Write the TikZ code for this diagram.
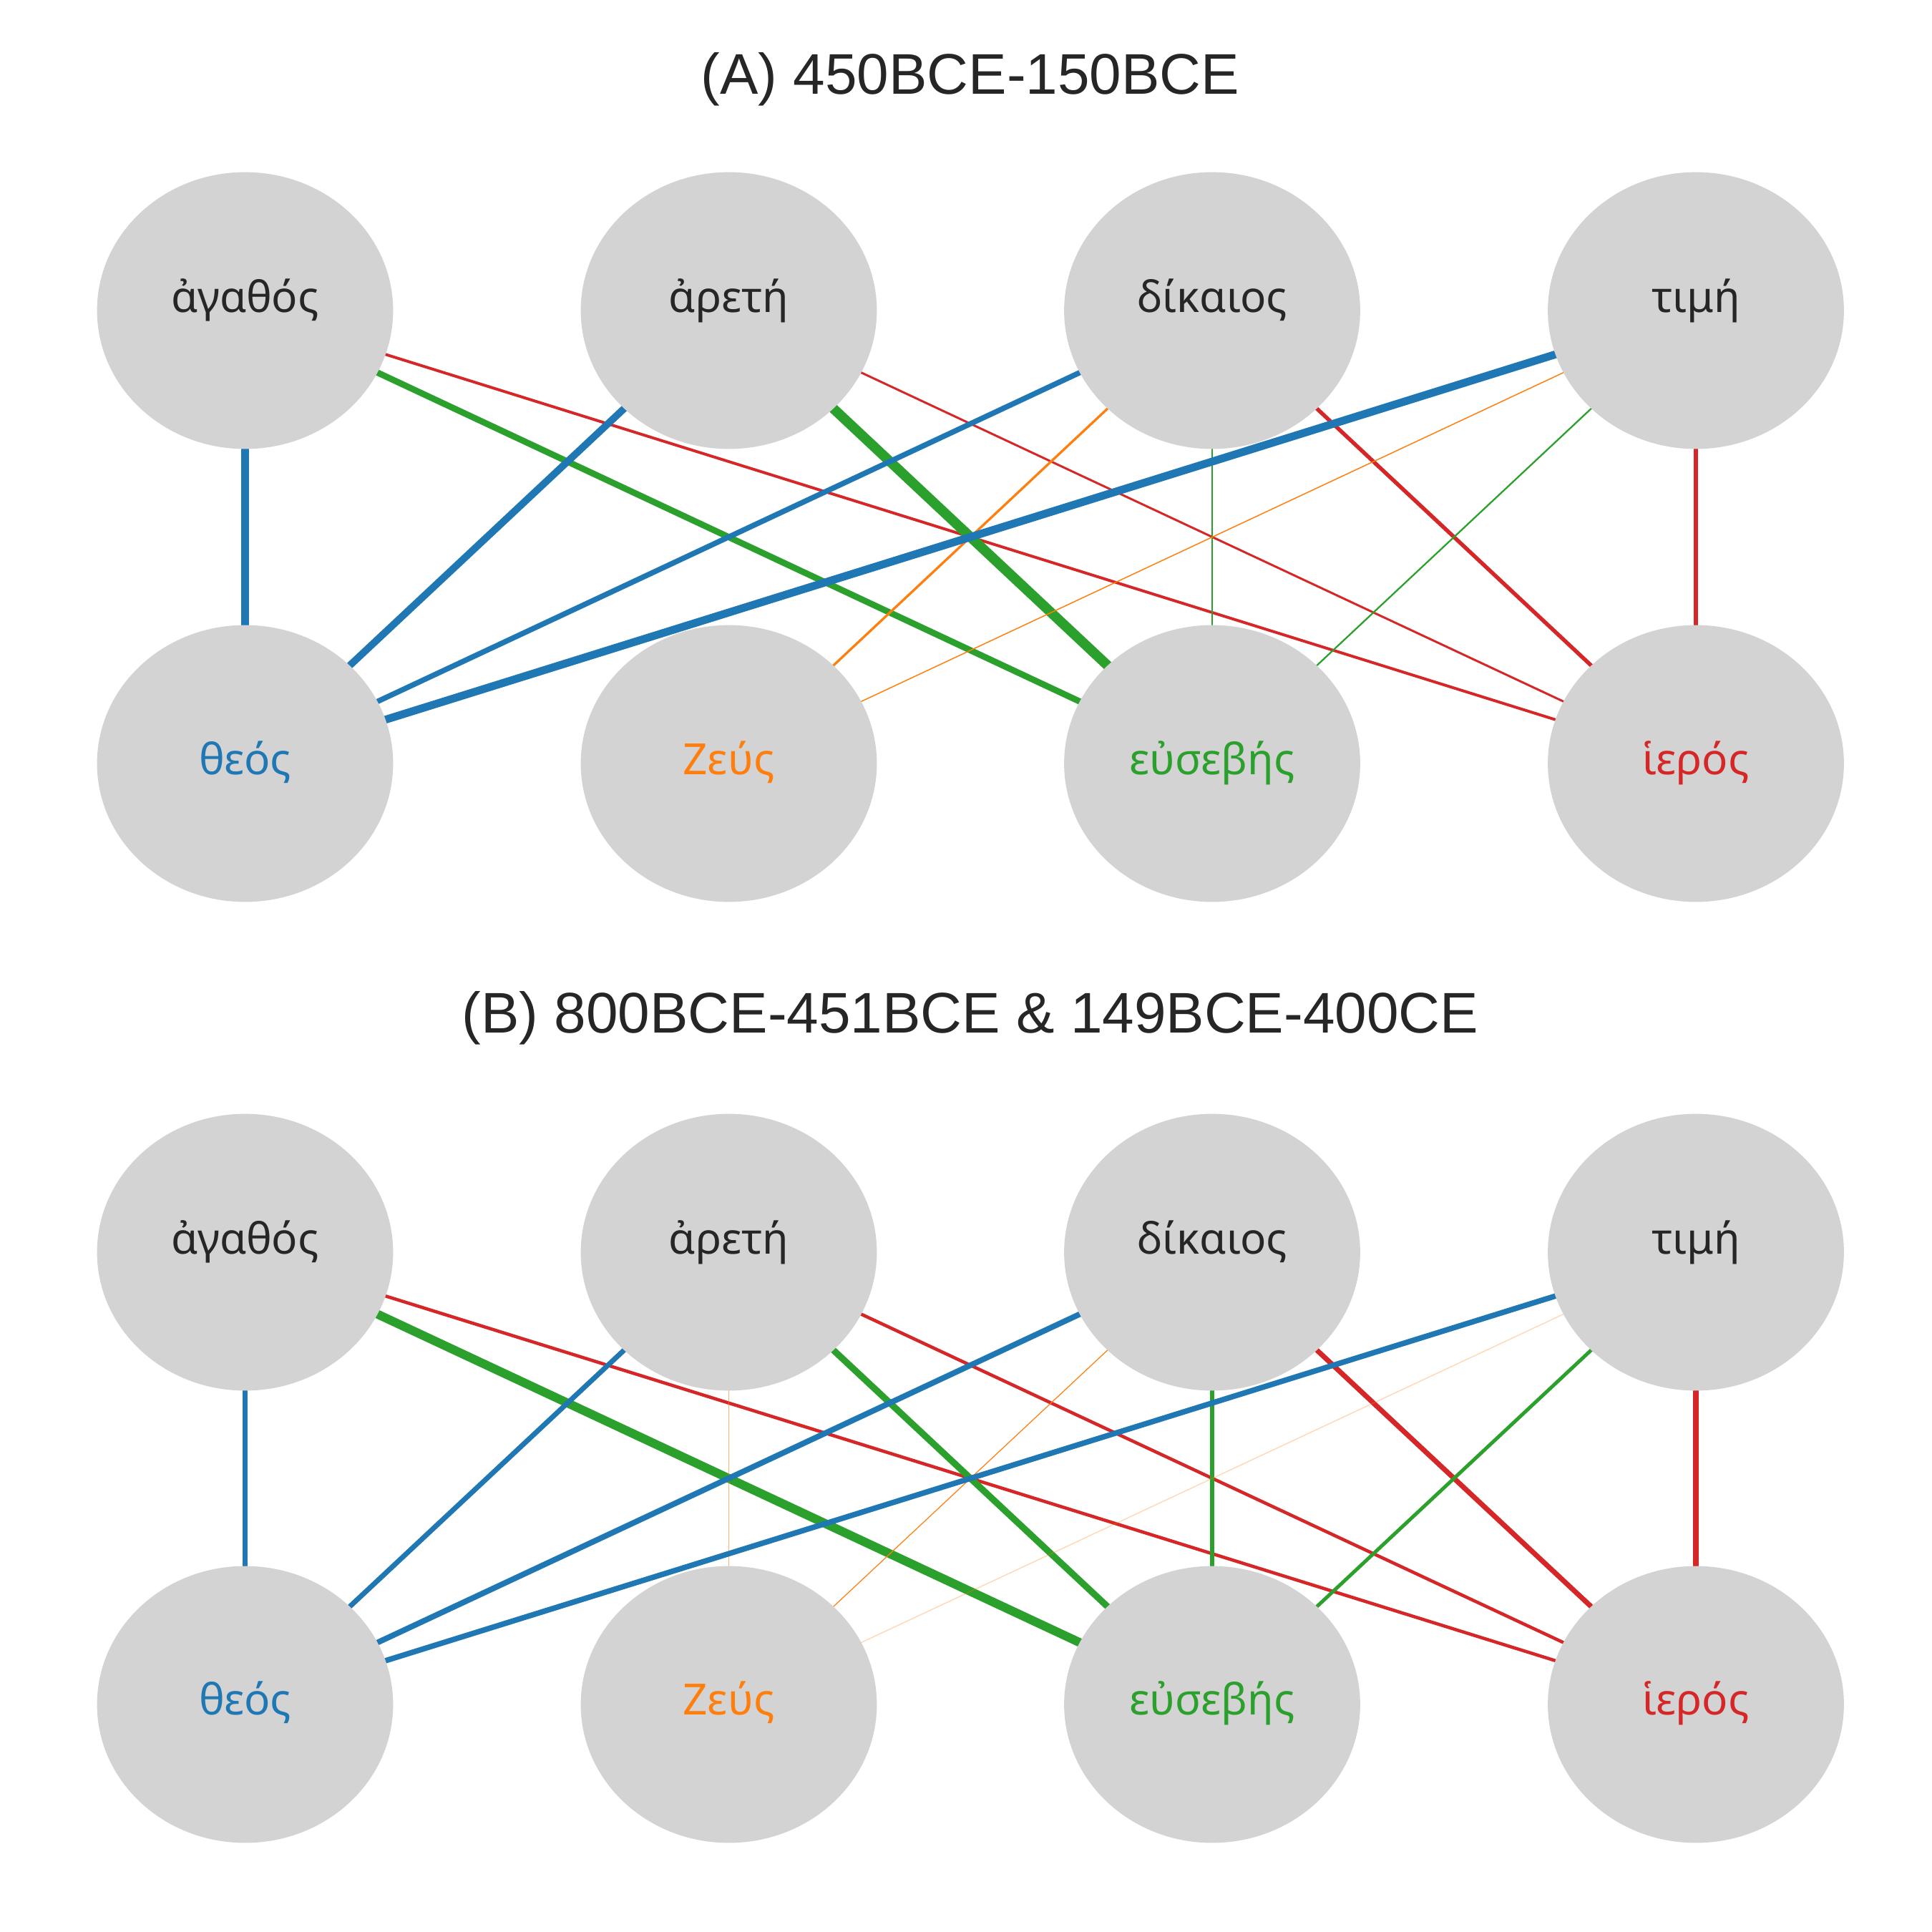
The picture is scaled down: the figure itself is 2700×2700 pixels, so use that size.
\documentclass[tikz,border=0pt]{standalone}
\usepackage{fontspec}
\setmainfont{Liberation Sans}
\newfontfamily\grk{Noto Sans}
\usetikzlibrary{shapes.geometric,backgrounds,calc}
\definecolor{tabblue}{HTML}{1F77B4}
\definecolor{taborange}{HTML}{FF7F0E}
\definecolor{tabgreen}{HTML}{2CA02C}
\definecolor{tabred}{HTML}{D62728}
\definecolor{nodegray}{HTML}{D3D3D3}
\definecolor{txtdark}{HTML}{262626}
\begin{document}
\begin{tikzpicture}[x=0.0084667cm,y=-0.0084667cm,
  wnode/.style={ellipse, fill=nodegray, draw=none, minimum width=99.7pt, minimum height=93.2pt, inner sep=0pt, outer sep=0pt},
  lbl/.style={anchor=base, inner sep=0pt, font=\grk\fontsize{14.5}{18}\selectfont},
  ttl/.style={anchor=base, inner sep=0pt, text=txtdark, font=\fontsize{19.3}{23}\selectfont},
  eb/.style={draw=tabblue},
  eo/.style={draw=taborange},
  eg/.style={draw=tabgreen},
  er/.style={draw=tabred}]
\useasboundingbox (0,0) rectangle (2700,2700);

% ---------- Panel A ----------
\node[ttl] (titleA) at (1356,131) {(A) 450BCE-150BCE};
\node[wnode] (aAg) at (342.5,434) {};
\node[wnode] (aAr) at (1018.5,434) {};
\node[wnode] (aDi) at (1694,434) {};
\node[wnode] (aTi) at (2370,434) {};
\node[wnode] (aTh) at (342.5,1067) {};
\node[wnode] (aZe) at (1018.5,1067) {};
\node[wnode] (aEu) at (1694,1067) {};
\node[wnode] (aHi) at (2370,1067) {};
\node[lbl, text=txtdark] (laAg) at ($(aAg.center)+(0,2)$) {ἀγαθός};
\node[lbl, text=txtdark] (laAr) at ($(aAr.center)+(0,2)$) {ἀρετή};
\node[lbl, text=txtdark] (laDi) at ($(aDi.center)+(0,2)$) {δίκαιος};
\node[lbl, text=txtdark] (laTi) at ($(aTi.center)+(0,2)$) {τιμή};
\node[lbl, text=tabblue] (laTh) at ($(aTh.center)+(0,15)$) {θεός};
\node[lbl, text=taborange] (laZe) at ($(aZe.center)+(0,15)$) {Ζεύς};
\node[lbl, text=tabgreen] (laEu) at ($(aEu.center)+(0,15)$) {εὐσεβής};
\node[lbl, text=tabred] (laHi) at ($(aHi.center)+(0,15)$) {ἱερός};

\begin{pgfonlayer}{background}
\draw[eb, line width=2.48pt] (aAg.center) -- (aTh.center);
\draw[eg, line width=2.1pt] (aAg.center) -- (aEu.center);
\draw[er, line width=0.95pt] (aAg.center) -- (aHi.center);
\draw[eb, line width=2.4pt] (aAr.center) -- (aTh.center);
\draw[eg, line width=3.35pt] (aAr.center) -- (aEu.center);
\draw[er, line width=0.72pt] (aAr.center) -- (aHi.center);
\draw[eb, line width=1.8pt] (aDi.center) -- (aTh.center);
\draw[eo, line width=0.8pt] (aDi.center) -- (aZe.center);
\draw[eg, line width=0.55pt] (aDi.center) -- (aEu.center);
\draw[er, line width=1.32pt] (aDi.center) -- (aHi.center);
\draw[eb, line width=2.65pt] (aTi.center) -- (aTh.center);
\draw[eo, line width=0.36pt] (aTi.center) -- (aZe.center);
\draw[eg, line width=0.55pt] (aTi.center) -- (aEu.center);
\draw[er, line width=1.25pt] (aTi.center) -- (aHi.center);
\end{pgfonlayer}

% ---------- Panel B ----------
\node[ttl] (titleB) at (1356,1443) {(B) 800BCE-451BCE \& 149BCE-400CE};
\node[wnode] (bAg) at (342.5,1750) {};
\node[wnode] (bAr) at (1018.5,1750) {};
\node[wnode] (bDi) at (1694,1750) {};
\node[wnode] (bTi) at (2370,1750) {};
\node[wnode] (bTh) at (342.5,2382) {};
\node[wnode] (bZe) at (1018.5,2382) {};
\node[wnode] (bEu) at (1694,2382) {};
\node[wnode] (bHi) at (2370,2382) {};
\node[lbl, text=txtdark] (lbAg) at ($(bAg.center)+(0,2)$) {ἀγαθός};
\node[lbl, text=txtdark] (lbAr) at ($(bAr.center)+(0,2)$) {ἀρετή};
\node[lbl, text=txtdark] (lbDi) at ($(bDi.center)+(0,2)$) {δίκαιος};
\node[lbl, text=txtdark] (lbTi) at ($(bTi.center)+(0,2)$) {τιμή};
\node[lbl, text=tabblue] (lbTh) at ($(bTh.center)+(0,14)$) {θεός};
\node[lbl, text=taborange] (lbZe) at ($(bZe.center)+(0,14)$) {Ζεύς};
\node[lbl, text=tabgreen] (lbEu) at ($(bEu.center)+(0,14)$) {εὐσεβής};
\node[lbl, text=tabred] (lbHi) at ($(bHi.center)+(0,14)$) {ἱερός};

\begin{pgfonlayer}{background}
\draw[eb, line width=1.7pt] (bAg.center) -- (bTh.center);
\draw[eg, line width=2.95pt] (bAg.center) -- (bEu.center);
\draw[er, line width=1.1pt] (bAg.center) -- (bHi.center);
\draw[eb, line width=1.7pt] (bAr.center) -- (bTh.center);
\draw[eo, line width=0.3pt, draw opacity=0.6] (bAr.center) -- (bZe.center);
\draw[eg, line width=2.2pt] (bAr.center) -- (bEu.center);
\draw[er, line width=1.1pt] (bAr.center) -- (bHi.center);
\draw[eb, line width=1.9pt] (bDi.center) -- (bTh.center);
\draw[eo, line width=0.3pt] (bDi.center) -- (bZe.center);
\draw[eg, line width=1.37pt] (bDi.center) -- (bEu.center);
\draw[er, line width=1.7pt] (bDi.center) -- (bHi.center);
\draw[eb, line width=1.85pt] (bTi.center) -- (bTh.center);
\draw[eo, line width=0.35pt, draw opacity=0.3] (bTi.center) -- (bZe.center);
\draw[eg, line width=1.2pt] (bTi.center) -- (bEu.center);
\draw[er, line width=1.7pt] (bTi.center) -- (bHi.center);
\end{pgfonlayer}
\end{tikzpicture}
\end{document}
